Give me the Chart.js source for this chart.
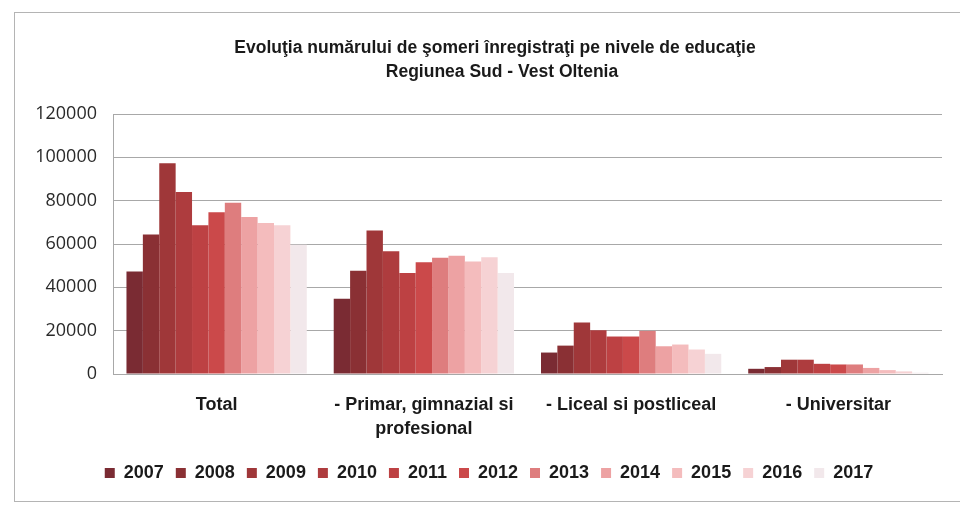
<!DOCTYPE html>
<html>
<head>
<meta charset="utf-8">
<script src="https://cdn.jsdelivr.net/npm/chart.js@4"></script>
<style>
  html, body { margin: 0; padding: 0; background: #fff; }
  #wrap { position: relative; width: 960px; height: 511px; overflow: hidden; }
  #frame { position: absolute; left: 14px; top: 12px; width: 980px; height: 488px;
           border: 1px solid #b4b4b4; }
  #c { position: absolute; left: 0; top: 0; }
</style>
</head>
<body>
<div id="wrap">
  <div id="frame"></div>
  <canvas id="c" width="960" height="511"></canvas>
</div>
<script>
const categories = ['Total', ['- Primar, gimnazial si', 'profesional'], '- Liceal si postliceal', '- Universitar'];
const years = ['2007', '2008', '2009', '2010', '2011', '2012', '2013', '2014', '2015', '2016', '2017'];

// values per education level, one per year
const total       = [47300, 64400, 97300, 84000, 68600, 74600, 79000, 72500, 69700, 68600, 59600];
const primar      = [34700, 47700, 66200, 56700, 46600, 51600, 53700, 54600, 51900, 53900, 46600];
const liceal      = [9900, 13100, 23800, 20200, 17300, 17300, 19900, 12800, 13600, 11300, 9300];
const universitar = [2400, 3200, 6600, 6600, 4700, 4400, 4400, 2800, 1800, 1200, 600];

const yearColors = ['#7a2b33', '#8a3034', '#9f3739', '#ae3c3e', '#bd4143', '#cb494a',
                    '#de7d7e', '#eda2a3', '#f4bcbd', '#f6d2d4', '#f2e8eb'];

const titleLines = ['Evoluţia numărului de şomeri înregistraţi pe nivele de educaţie',
                    'Regiunea Sud - Vest Oltenia'];

const boldFont = '"Liberation Sans Narrow", "Liberation Sans", Arial, sans-serif';

const datasets = years.map(function (y, i) {
  return {
    label: y,
    data: [total[i], primar[i], liceal[i], universitar[i]],
    backgroundColor: yearColors[i],
    borderWidth: 0,
    categoryPercentage: 0.87,
    barPercentage: 1.0
  };
});

const titlePlugin = {
  id: 'titleText',
  afterDraw(chart) {
    const ctx = chart.ctx;
    ctx.save();
    ctx.fillStyle = '#1a1a1a';
    ctx.font = 'bold 17.5px ' + boldFont;
    ctx.textAlign = 'center';
    ctx.textBaseline = 'middle';
    ctx.fillText(titleLines[0], 495, 48);
    ctx.fillText(titleLines[1], 502, 72);
    ctx.restore();
  }
};

new Chart(document.getElementById('c'), {
  type: 'bar',
  data: { labels: categories, datasets: datasets },
  plugins: [titlePlugin],
  options: {
    responsive: false,
    animation: false,
    layout: { padding: { left: 36, right: 18, top: 114, bottom: 19 } },
    plugins: {
      title: { display: false },
      tooltip: { enabled: false },
      legend: {
        position: 'bottom',
        labels: {
          color: '#1a1a1a',
          font: { family: boldFont, size: 18, weight: 'bold' },
          boxWidth: 10,
          boxHeight: 10,
          padding: 12
        }
      }
    },
    scales: {
      x: {
        grid: { display: false },
        border: { display: true, color: '#a8a8a8', width: 1 },
        ticks: {
          color: '#1a1a1a',
          font: { family: boldFont, size: 18, weight: 'bold', lineHeight: 1.35 },
          padding: 11,
          maxRotation: 0,
          autoSkip: false
        },
        afterFit: function (s) { s.height = 78; }
      },
      y: {
        min: 0,
        max: 120000,
        grid: { color: '#a8a8a8', drawTicks: false },
        border: { display: true, color: '#a8a8a8', width: 1 },
        ticks: {
          stepSize: 20000,
          color: '#2a2a2a',
          font: { family: '"Open Sans", sans-serif', size: 18 },
          padding: 16,
          callback: function (v) { return String(v); }
        },
        afterFit: function (s) { s.width = 77; }
      }
    }
  }
});
</script>
</body>
</html>
